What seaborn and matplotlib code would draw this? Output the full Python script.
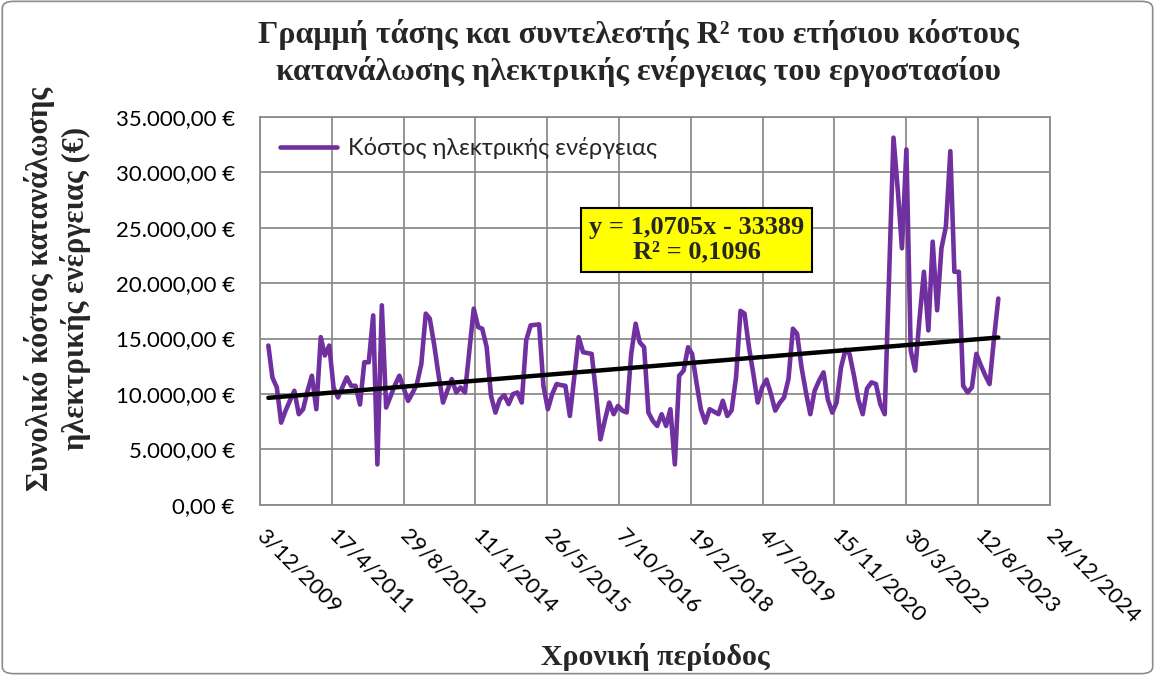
import numpy as np
import pandas as pd
import matplotlib
matplotlib.use("Agg")
import matplotlib.pyplot as plt
import matplotlib.dates as mdates
from matplotlib.ticker import FuncFormatter, FixedLocator, MultipleLocator
from matplotlib.patches import FancyBboxPatch
import seaborn as sns

# ---------------- data ----------------
months = pd.date_range("2010-01-01", "2023-12-01", freq="MS") + pd.offsets.MonthEnd(0)
cost = [
    14370, 11500, 10590, 7420, 8500, 9400, 10290, 8180, 8630, 10290, 11650, 8630,   # 2010
    15130, 13470, 14370, 10590, 9690, 10600, 11500, 10740, 10740, 9050, 12860, 12860,  # 2011
    17090, 3650, 18000, 8780, 9800, 10800, 11650, 10500, 9380, 10100, 10900, 12710,  # 2012
    17250, 16790, 14400, 11700, 9230, 10300, 11350, 10140, 10590, 10140, 13900, 17700,  # 2013
    16030, 15890, 14220, 9840, 8320, 9500, 9900, 9090, 9990, 10140, 9230, 14830,  # 2014
    16190, 16230, 16280, 10740, 8630, 9990, 10900, 10800, 10740, 8020, 11450, 15130,  # 2015
    13770, 13700, 13620, 10090, 5910, 7600, 9230, 8180, 8930, 8500, 8330, 13620,  # 2016
    16340, 14670, 14220, 8320, 7570, 7120, 8180, 7120, 8630, 3650, 11650, 12110,  # 2017
    14220, 13620, 11000, 8630, 7420, 8630, 8400, 8180, 9390, 8020, 8520, 11500,  # 2018
    17500, 17250, 14220, 11850, 9230, 10570, 11300, 10000, 8500, 9200, 9690, 11350,  # 2019
    15890, 15430, 12400, 10200, 8180, 10290, 11200, 11950, 9500, 8320, 9230, 12400,  # 2020
    14000, 13620, 11650, 9500, 8180, 10500, 11050, 10900, 9090, 8180, 20570, 33120,  # 2021
    28250, 23140, 32060, 13920, 12110, 16740, 21020, 15730, 23740, 17550, 23140, 25100,  # 2022
    31900, 21020, 21020, 10740, 10140, 10590, 13620, 12600, 11700, 10900, 14890, 18610,  # 2023
]
series_label = "Κόστος ηλεκτρικής ενέργειας"
trend_slope = 1.0705
trend_intercept = -33389
trend_text = "y = 1,0705x - 33389\nR² = 0,1096"
title_text = "Γραμμή τάσης και συντελεστής R² του ετήσιου κόστους\nκατανάλωσης ηλεκτρικής ενέργειας του εργοστασίου"
ylabel_text = "Συνολικό κόστος κατανάλωσης\nηλεκτρικής ενέργειας (€)"
xlabel_text = "Χρονική περίοδος"
x_start, x_end, x_step_days = "2009-12-03", "2024-12-24", 500

df = pd.DataFrame({"date": months, "cost": cost})
excel_serial = (df["date"] - pd.Timestamp("1899-12-30")).dt.days
trend_df = pd.DataFrame({"date": df["date"].iloc[[0, -1]],
                         "trend": trend_slope * excel_serial.iloc[[0, -1]] + trend_intercept})

# ---------------- style ----------------
sns.set_style("white")
serif = ["Liberation Serif", "DejaVu Serif"]
sans = ["Lato", "Open Sans", "DejaVu Sans"]
plt.rcParams["font.family"] = sans

purple = "#7030A0"
grid_c = "#8c8c8c"

fig = plt.figure(figsize=(11.55, 6.75), dpi=100)
ax = fig.add_axes([0.225, 0.252, 0.684, 0.575])

sns.lineplot(data=df, x="date", y="cost", ax=ax, color=purple, lw=3.3,
             label=series_label, solid_joinstyle="round")
sns.lineplot(data=trend_df, x="date", y="trend", ax=ax, color="black", lw=3.2,
             legend=False, solid_capstyle="round")

ticks = pd.date_range(x_start, x_end, freq=f"{x_step_days}D")
ax.set_xlim(mdates.date2num(pd.Timestamp(x_start)), mdates.date2num(pd.Timestamp(x_end)))
ax.xaxis.set_major_locator(FixedLocator(mdates.date2num(ticks)))
ax.xaxis.set_major_formatter(FuncFormatter(
    lambda v, p: (lambda d: f"{d.day}/{d.month}/{d.year}")(mdates.num2date(v))))
ax.set_ylim(0, 35000)
ax.yaxis.set_major_locator(MultipleLocator(5000))
ax.yaxis.set_major_formatter(FuncFormatter(
    lambda v, p: f"{v:,.2f}".replace(",", "X").replace(".", ",").replace("X", ".") + " €"))

ax.grid(True, color=grid_c, lw=1.3)
for s in ax.spines.values():
    s.set_color(grid_c)
    s.set_linewidth(1.3)
ax.tick_params(axis="both", which="major", length=6, color=grid_c, width=1.3,
               labelsize=16, labelcolor="black")
ax.tick_params(axis="y", pad=12)
for lbl in ax.get_xticklabels():
    lbl.set_rotation(-45)
    lbl.set_ha("left")
    lbl.set_va("center")
    lbl.set_rotation_mode("anchor")
ax.tick_params(axis="x", pad=14)

ax.set_xlabel("")
ax.set_ylabel("")
fig.text(0.567, 0.027, xlabel_text, ha="center", va="center", family=serif,
         fontsize=21.5, fontweight="bold")
fig.text(0.050, 0.572, ylabel_text, ha="center", va="center", rotation=90,
         family=serif, fontsize=22, fontweight="bold", linespacing=1.2, multialignment="center")

leg = ax.legend(loc="upper left", frameon=False, fontsize=17, handlelength=2.4,
                bbox_to_anchor=(0.0, 1.0), borderaxespad=0.45, handletextpad=0.5)

ax.text(0.553, 0.683, trend_text, transform=ax.transAxes, ha="center", va="center",
        family=serif, fontsize=19, fontweight="bold", linespacing=1.1,
        bbox=dict(boxstyle="square,pad=0.3", fc="#FFFF00", ec="black", lw=1.5))

fig.text(0.553, 0.921, title_text, ha="center", va="center", family=serif,
         fontsize=23, fontweight="bold", linespacing=1.25)

fig.patches.append(FancyBboxPatch((0.002, 0.002), 0.996, 0.996, boxstyle="round,pad=0,rounding_size=0.01",
                                  transform=fig.transFigure, fc="none", ec="#8c8c8c", lw=1.2))

fig.savefig("out.png", dpi=100, facecolor="white")
